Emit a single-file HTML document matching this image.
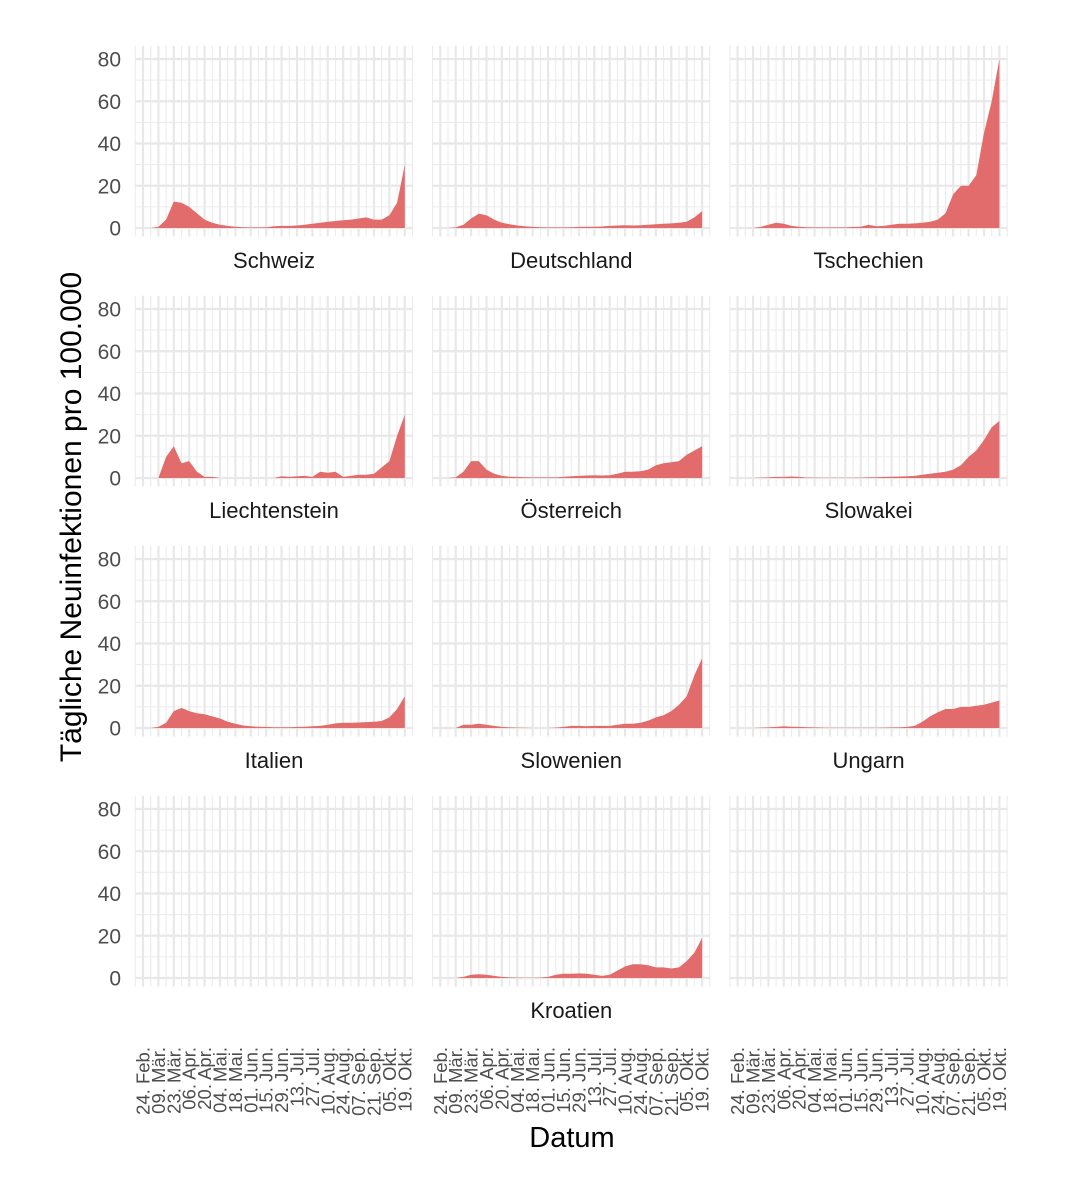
<!DOCTYPE html>
<html><head><meta charset="utf-8"><style>
html,body{margin:0;padding:0;background:#fff;}
svg{display:block;font-family:"Liberation Sans",Arial,sans-serif;}
</style></head><body>
<svg id="chart" width="1081" height="1200" viewBox="0 0 1081 1200"></svg>
<script>
const countries = ["Schweiz","Deutschland","Tschechien","Liechtenstein","Österreich","Slowakei","Italien","Slowenien","Ungarn","","Kroatien",""];
const yTicks = [0,20,40,60,80];
const xTickLabels = ["24. Feb.","09. Mär.","23. Mär.","06. Apr.","20. Apr.","04. Mai.","18. Mai.","01. Jun.","15. Jun.","29. Jun.","13. Jul.","27. Jul.","10. Aug.","24. Aug.","07. Sep.","21. Sep.","05. Okt.","19. Okt."];
// weekly values starting 24 Feb
const sSchweiz = [0,0,0.5,4,12.5,12,10,7,4,2.5,1.5,1,0.6,0.4,0.3,0.3,0.4,0.8,1,1,1.2,1.5,2,2.5,3,3.3,3.7,4,4.5,5,4,4,6,12,30];
const sDeutschland = [0,0,0.3,1.5,4.5,6.8,6,4,2.5,1.8,1.2,0.8,0.5,0.4,0.3,0.3,0.3,0.4,0.5,0.6,0.6,0.7,1,1.2,1.3,1.2,1.3,1.5,1.8,2,2.2,2.5,3,5,8];
const sTschechien = [0,0,0,0.5,1.5,2.5,2,1,0.6,0.4,0.3,0.3,0.3,0.3,0.3,0.5,0.6,1.5,0.8,1,1.5,2,2,2.2,2.5,3,4,7,16,20,20,25,45,60,80];
const sLiechtenstein = [0,0,0,10,15,7,8,3,0.5,0.5,0,0,0,0,0,0,0,0,0.8,0.5,0.8,1,0.5,3,2.5,3,0.5,1,1.5,1.5,2,5,8,20,30];
const sOesterreich = [0,0,0.3,3,8,8,4,2,1,0.6,0.5,0.4,0.3,0.3,0.3,0.3,0.5,0.8,1,1.2,1.3,1.2,1.3,2,3,3,3.2,4,6,7,7.5,8,11,13,15];
const sSlowakei = [0,0,0,0.2,0.3,0.5,0.5,0.7,0.5,0.2,0.2,0.1,0.1,0.1,0.1,0.1,0.2,0.3,0.4,0.5,0.6,0.7,0.8,1,1.5,2,2.5,3,4,6,10,13,18,24,27];
const sItalien = [0,0,0.5,2.5,8,9.5,8,7,6.5,5.5,4.5,3,2,1.2,0.8,0.6,0.5,0.4,0.4,0.4,0.5,0.6,0.8,1,1.5,2.2,2.5,2.5,2.6,2.8,3,3.3,5,9,15];
const sSlowenien = [0,0,0,1.5,1.5,2,1.5,1,0.5,0.3,0.2,0.1,0,0,0,0.2,0.5,1,1,0.8,1,1,1,1.5,2,2,2.5,3.5,5,6,8,11,15,25,33];
const sUngarn = [0,0,0,0.2,0.3,0.5,0.8,0.6,0.5,0.4,0.3,0.2,0.1,0.1,0.1,0.1,0.1,0.1,0.1,0.2,0.3,0.3,0.5,1,3,5.5,7.5,9,9,10,10,10.5,11,12,13];
const sKroatien = [0,0,0,0.5,1.5,1.8,1.5,1,0.5,0.3,0.2,0.1,0.1,0.2,0.5,1.5,2,2,2.2,2,1.5,1,1.5,3.5,5.5,6.5,6.5,6,5,5,4.5,5,8,12,19];
const seriesList = [sSchweiz,sDeutschland,sTschechien,sLiechtenstein,sOesterreich,sSlowakei,sItalien,sSlowenien,sUngarn,null,sKroatien,null];

const NS = "http://www.w3.org/2000/svg";
const svg = document.getElementById("chart");
function mk(tag, attrs, parent){const e=document.createElementNS(NS,tag);for(const k in attrs)e.setAttribute(k,attrs[k]);(parent||svg).appendChild(e);return e;}
const colPitch = 297.3, rowPitch = 250, pLeft = 135, pW = 278;
const pxPerDay = 1.1, firstTickOff = 8;
const unit = 2.1125;
function xScale(c, day){return pLeft + c*colPitch + firstTickOff + day*pxPerDay;}
function yScale(r, v){return 228 + r*rowPitch - v*unit;}

for(let i=0;i<12;i++){
  const r=Math.floor(i/3), c=i%3;
  const g = mk("g",{});
  
  
  const left = pLeft + c*colPitch, top = yScale(r,88)-0.5+4.2, bot = yScale(r,-4);
  for(const v of [10,30,50,70]) mk("line",{x1:left,x2:left+pW,y1:yScale(r,v),y2:yScale(r,v),stroke:"#ececec","stroke-width":1.1},g);
  for(let k=-1;k<=35;k+=2){const x=xScale(c,k*7); if(x>=left&&x<=left+pW) mk("line",{x1:x,x2:x,y1:top,y2:bot,stroke:"#ececec","stroke-width":1.1},g);}
  for(const v of yTicks) mk("line",{x1:left,x2:left+pW,y1:yScale(r,v),y2:yScale(r,v),stroke:"#e8e8e8","stroke-width":2.2},g);
  for(let k=0;k<xTickLabels.length;k++){const x=xScale(c,k*14); mk("line",{x1:x,x2:x,y1:top,y2:bot,stroke:"#e8e8e8","stroke-width":2.2},g);}
  const s = seriesList[i];
  if(s){
    let d = "M"+xScale(c,0)+","+yScale(r,0);
    s.forEach((v,j)=>{d+=" L"+xScale(c,j*7).toFixed(1)+","+yScale(r,v).toFixed(1);});
    d += " L"+xScale(c,(s.length-1)*7).toFixed(1)+","+yScale(r,0)+" Z";
    const a = mk("path",{d:d,fill:"#e26c6b"},g);
    
    
  }
  if(countries[i]){
    const t = mk("text",{x:left+pW/2,y:yScale(r,0)+40,"text-anchor":"middle","font-size":22,fill:"#1a1a1a"},g);
    t.textContent = countries[i];
    
    
  }
  if(c===0){
    for(const v of yTicks){
      const t = mk("text",{x:121,y:yScale(r,v)+7.5,"text-anchor":"end","font-size":21,fill:"#4d4d4d"},g);
      t.textContent = v;
      
      
    }
  }
  if(r===3){
    for(let k=0;k<xTickLabels.length;k++){
      const x=xScale(c,k*14)+6.5;
      const t = mk("text",{x:0,y:0,transform:"translate("+x.toFixed(1)+",1047) rotate(-90)","text-anchor":"end","font-size":18.5,fill:"#4d4d4d"},g);
      t.textContent = xTickLabels[k];
      
      
    }
  }
}
const yt = mk("text",{transform:"translate(81,517) rotate(-90)","text-anchor":"middle","font-size":30,fill:"#000"});
yt.textContent = "Tägliche Neuinfektionen pro 100.000";


const xt = mk("text",{x:572,y:1147,"text-anchor":"middle","font-size":29,fill:"#000"});
xt.textContent = "Datum";


</script>
</body></html>
